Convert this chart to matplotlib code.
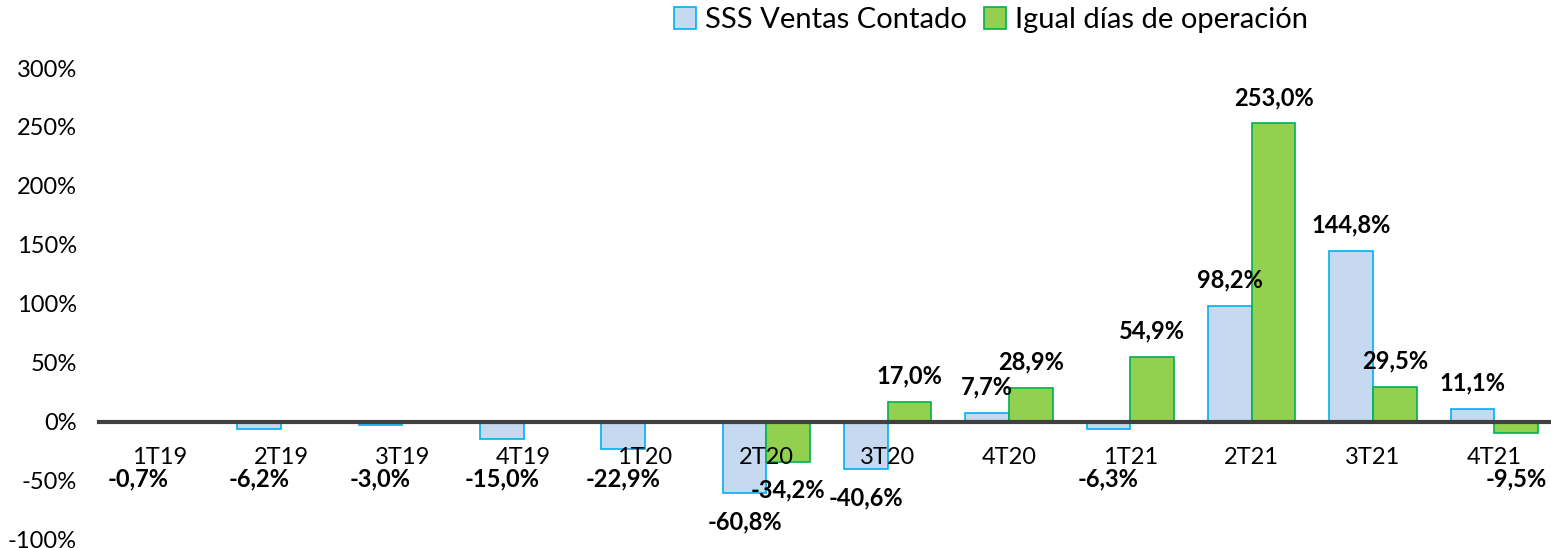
import numpy as np
import matplotlib.pyplot as plt

plt.rcParams['font.family'] = ['Lato', 'DejaVu Sans']

categorias = ['1T19', '2T19', '3T19', '4T19', '1T20', '2T20',
              '3T20', '4T20', '1T21', '2T21', '3T21', '4T21']
sss_ventas = [-0.7, -6.2, -3.0, -15.0, -22.9, -60.8,
              -40.6, 7.7, -6.3, 98.2, 144.8, 11.1]
igual_dias = [None, None, None, None, None, -34.2,
              17.0, 28.9, 54.9, 253.0, 29.5, -9.5]
yticks = [-100, -50, 0, 50, 100, 150, 200, 250, 300]

azul, azul_borde = '#C5D9F1', '#00B0F0'
verde, verde_borde = '#92D050', '#00B050'

fig = plt.figure(figsize=(15.51, 5.48), dpi=100)
ax = fig.add_axes([0.0638, 0.0155, 0.9388, 0.8604])

x = np.arange(len(categorias))
w = 0.36
v1 = np.array(sss_ventas, dtype=float)
v2 = np.array([np.nan if v is None else v for v in igual_dias], dtype=float)

b1 = ax.bar(x - w / 2, v1, w, color=azul, edgecolor=azul_borde, linewidth=1.2,
            label='SSS Ventas Contado')
b2 = ax.bar(x + w / 2, v2, w, color=verde, edgecolor=verde_borde, linewidth=1.2,
            label='Igual días de operación')


def etiquetas(xs, vals):
    for xi, v in zip(xs, vals):
        if np.isnan(v):
            continue
        if v >= 0:
            y = v + 22
        else:
            y = min(v, -25) - 24
        ax.text(xi, y, f'{v:.1f}%'.replace('.', ','), ha='center', va='center',
                fontsize=17, fontweight='bold', color='black')


etiquetas(x - w / 2, v1)
etiquetas(x + w / 2, v2)

ax.set_xlim(-0.5, len(categorias) - 0.5)
ax.set_ylim(-100, 300)
ax.set_yticks(yticks)
ax.set_yticklabels([f'{t}%' for t in yticks])
ax.set_xticks(x)
ax.set_xticklabels(categorias)

for s in ['top', 'right', 'left']:
    ax.spines[s].set_visible(False)
ax.spines['bottom'].set_position(('data', 0))
ax.spines['bottom'].set_color('#404040')
ax.spines['bottom'].set_linewidth(3)
ax.spines['bottom'].set_zorder(5)
ax.tick_params(axis='x', length=0, pad=18, labelsize=17)
ax.tick_params(axis='y', length=0, pad=16, labelsize=17)

fig.legend(handles=[b1, b2], loc='upper center', bbox_to_anchor=(0.639, 1.035),
           ncol=2, frameon=False, fontsize=21, handlelength=0.75,
           handleheight=0.75, handletextpad=0.3, columnspacing=0.6)

fig.savefig('out.png', dpi=100)
